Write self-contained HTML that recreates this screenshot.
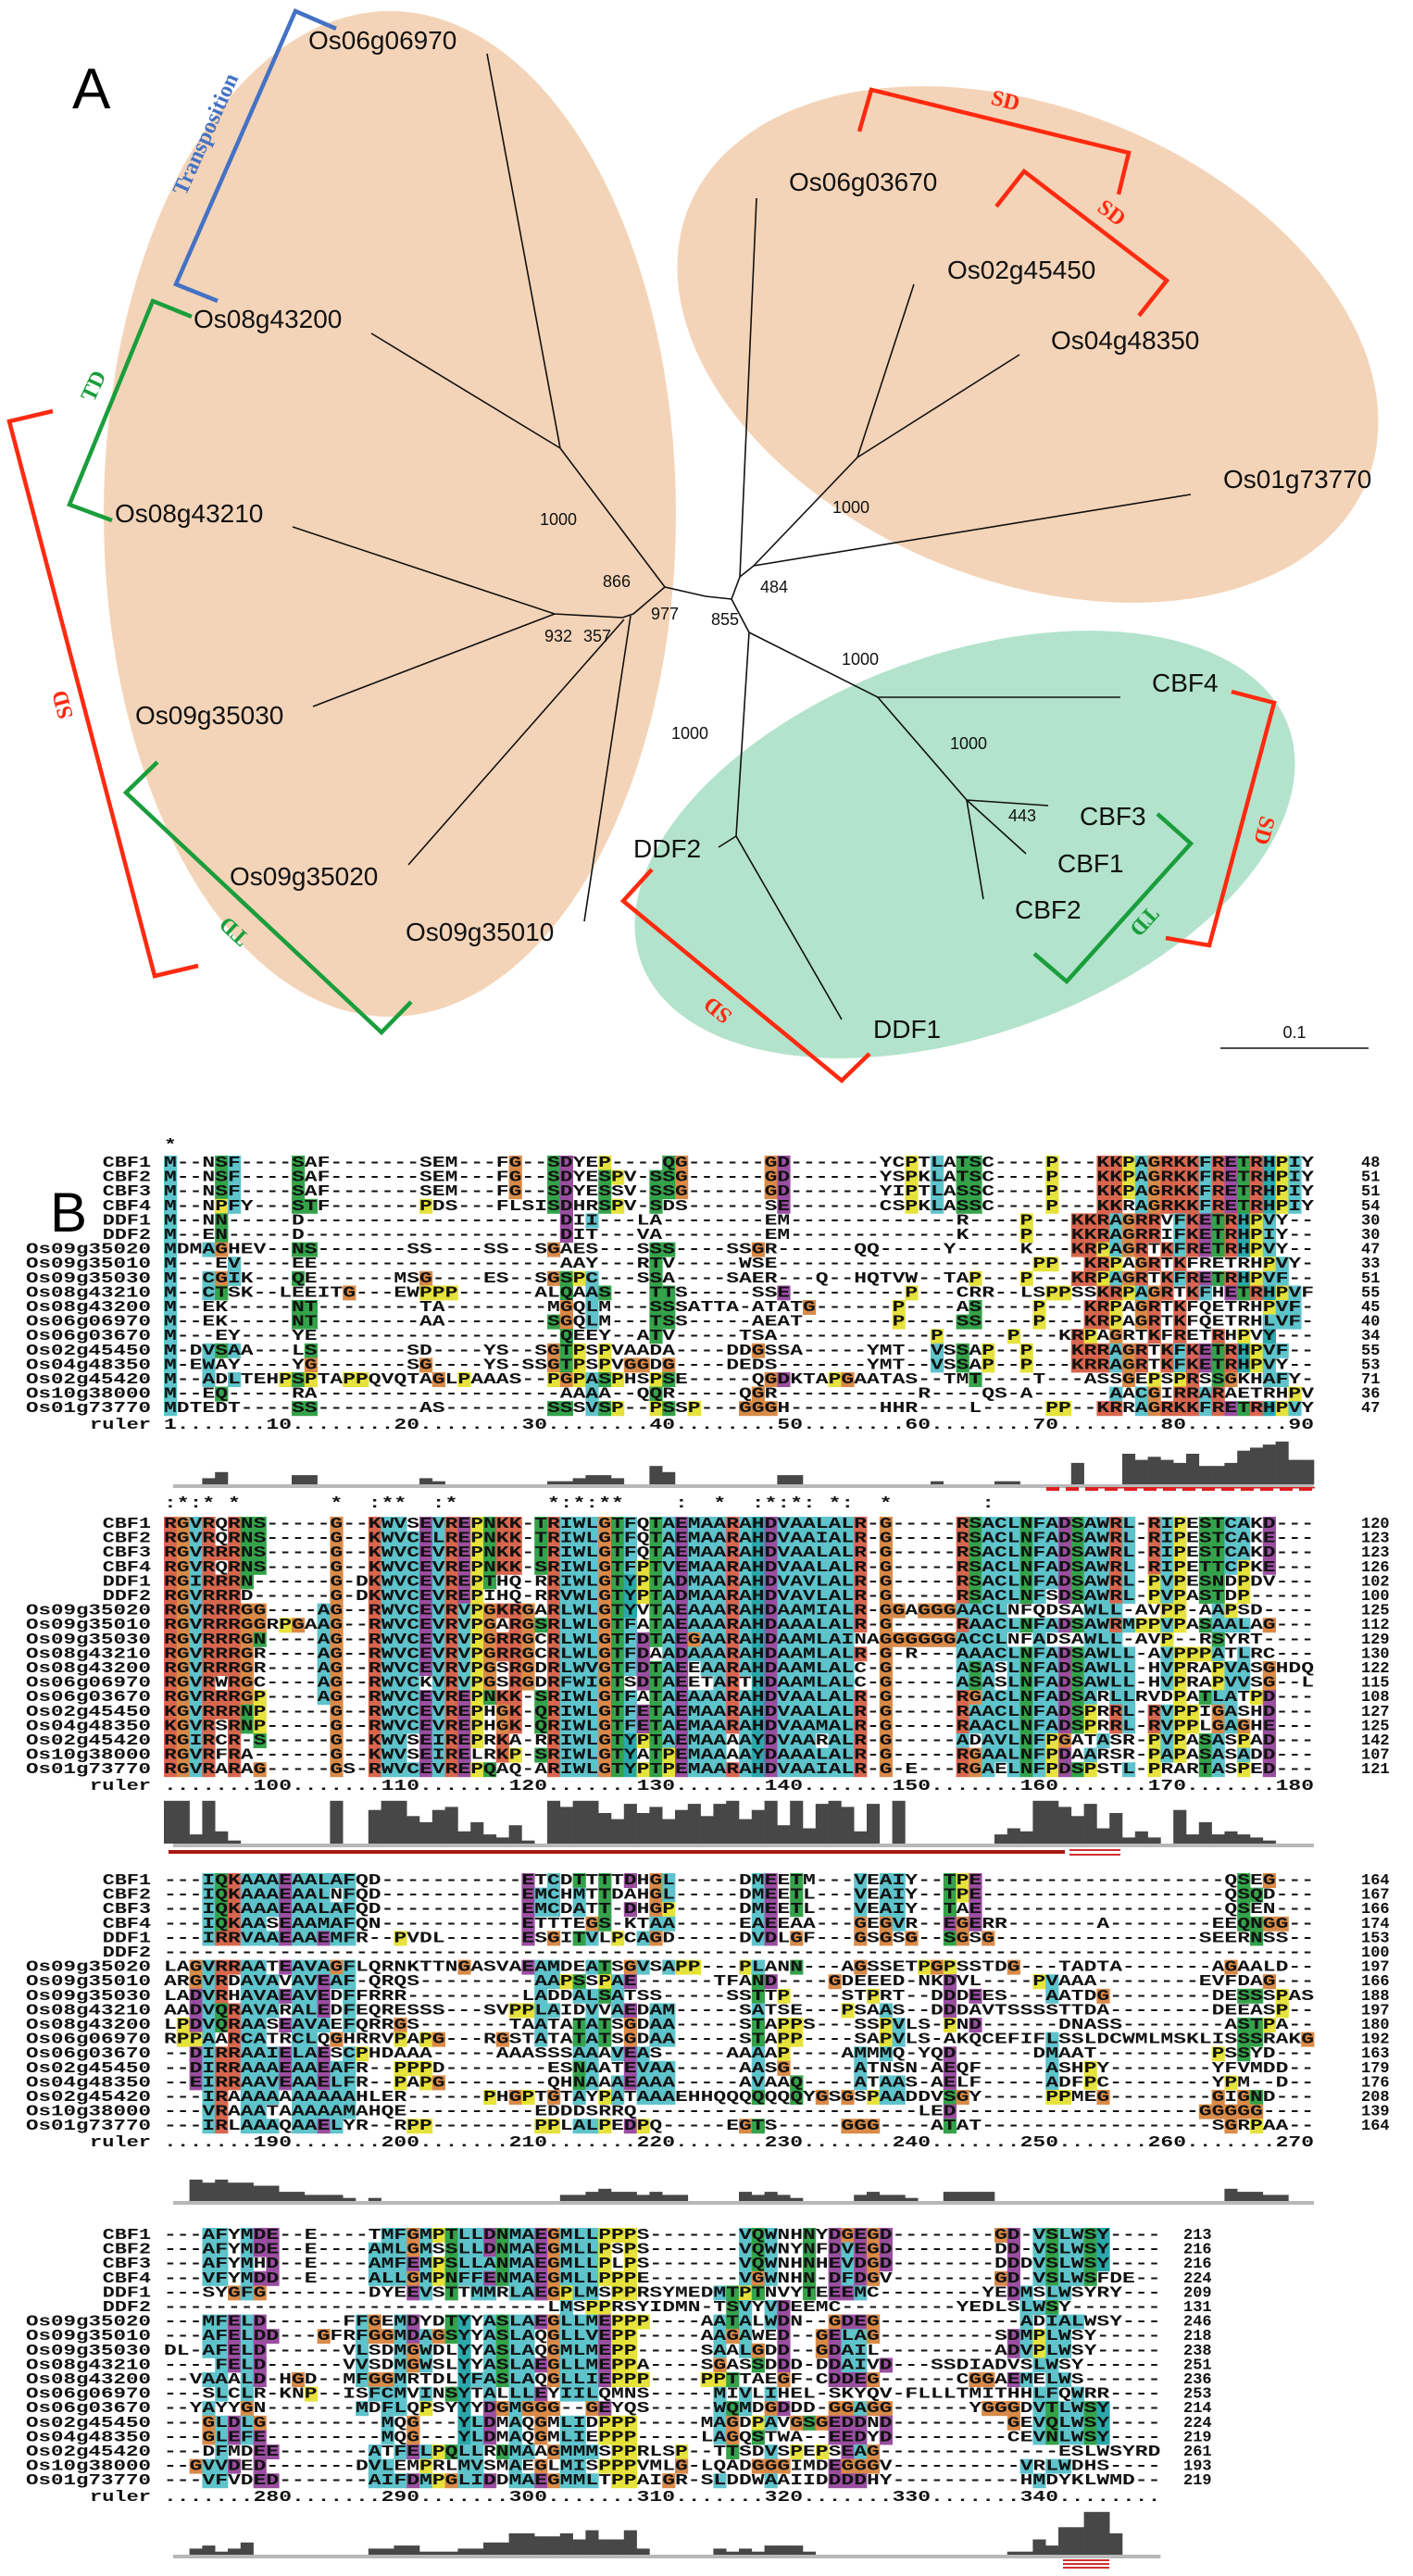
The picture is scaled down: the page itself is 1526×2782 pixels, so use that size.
<!DOCTYPE html>
<html><head><meta charset="utf-8"><style>
html,body{margin:0;padding:0;background:#fff;}
svg{display:block;}
.tl{stroke:#111;stroke-width:1.6;fill:none;}
.lab{font-family:"Liberation Sans",sans-serif;font-size:28px;fill:#111;}
.bs{font-family:"Liberation Sans",sans-serif;font-size:18px;fill:#111;}
.br{fill:none;stroke-width:4.5;}
.bl{font-family:"Liberation Serif",serif;font-weight:bold;font-size:24px;}
.seq{font-family:"Liberation Mono",monospace;font-weight:bold;font-size:17px;fill:#111;}
</style></head><body>
<svg id="fig" width="1526" height="2782" viewBox="0 0 1526 2782" xmlns="http://www.w3.org/2000/svg">
<g>
<ellipse cx="421" cy="555" rx="309" ry="543" fill="#f4d4b8"/>
<ellipse cx="1110" cy="372" rx="395" ry="255" transform="rotate(22 1110 372)" fill="#f4d4b8"/>
<ellipse cx="1042" cy="912" rx="372" ry="205" transform="rotate(-20 1042 912)" fill="#b3e3cc"/>
<text x="78" y="117" font-family="Liberation Sans,sans-serif" font-size="62" fill="#000">A</text>
<g>
<polyline class="tl" points="526,58 605,484 718,634 762,644 790,647"/>
<polyline class="tl" points="401,360 605,484"/>
<polyline class="tl" points="316,569 599,663 672,667 684,663 718,634"/>
<polyline class="tl" points="338,763 599,663"/>
<polyline class="tl" points="441,934 674,669"/>
<polyline class="tl" points="631,995 681,665"/>
<polyline class="tl" points="790,647 799,623 817,214"/>
<polyline class="tl" points="799,623 814,611 1286,534"/>
<polyline class="tl" points="814,611 926,494 987,307"/>
<polyline class="tl" points="926,494 1101,383"/>
<polyline class="tl" points="790,647 809,683 948,753 1210,753"/>
<polyline class="tl" points="948,753 1044,864 1132,870"/>
<polyline class="tl" points="1044,864 1108,922"/>
<polyline class="tl" points="1044,864 1062,971"/>
<polyline class="tl" points="809,683 795,903 909,1101"/>
<polyline class="tl" points="795,903 776,915"/>
</g>
<g>
<text class="lab" x="333" y="53">Os06g06970</text>
<text class="lab" x="209" y="354">Os08g43200</text>
<text class="lab" x="124" y="564">Os08g43210</text>
<text class="lab" x="146" y="782">Os09g35030</text>
<text class="lab" x="248" y="956">Os09g35020</text>
<text class="lab" x="438" y="1016">Os09g35010</text>
<text class="lab" x="684" y="926">DDF2</text>
<text class="lab" x="852" y="206">Os06g03670</text>
<text class="lab" x="1023" y="301">Os02g45450</text>
<text class="lab" x="1135" y="377">Os04g48350</text>
<text class="lab" x="1321" y="527">Os01g73770</text>
<text class="lab" x="1244" y="747">CBF4</text>
<text class="lab" x="1166" y="891">CBF3</text>
<text class="lab" x="1142" y="942">CBF1</text>
<text class="lab" x="1096" y="992">CBF2</text>
<text class="lab" x="943" y="1121">DDF1</text>
</g>
<g>
<text class="bs" x="583" y="567">1000</text>
<text class="bs" x="651" y="634">866</text>
<text class="bs" x="703" y="669">977</text>
<text class="bs" x="588" y="693">932</text>
<text class="bs" x="630" y="693">357</text>
<text class="bs" x="725" y="798">1000</text>
<text class="bs" x="899" y="554">1000</text>
<text class="bs" x="821" y="640">484</text>
<text class="bs" x="768" y="675">855</text>
<text class="bs" x="909" y="718">1000</text>
<text class="bs" x="1026" y="809">1000</text>
<text class="bs" x="1089" y="887">443</text>
</g>
<g>
<line x1="1318" y1="1132" x2="1478" y2="1132" stroke="#111" stroke-width="1.6"/>
<text class="bs" x="1398" y="1121" text-anchor="middle">0.1</text>
</g>
<g>
<polyline class="br" stroke="#4472c4" points="363,31 319,12 190,307 235,325"/>
<text class="bl" fill="#4472c4" transform="translate(229,148) rotate(-66)" text-anchor="middle">Transposition</text>
<polyline class="br" stroke="#1a9e3c" points="207,342 165,325 75,545 121,562"/>
<text class="bl" fill="#1a9e3c" transform="translate(108,420) rotate(-65)" text-anchor="middle">TD</text>
<polyline class="br" stroke="#ff2a10" points="57,444 10,455 167,1054 214,1043"/>
<text class="bl" fill="#ff2a10" transform="translate(75,759) rotate(-105)" text-anchor="middle">SD</text>
<polyline class="br" stroke="#1a9e3c" points="170,823 136,856 412,1115 444,1082"/>
<text class="bl" fill="#1a9e3c" transform="translate(258,1000) rotate(223)" text-anchor="middle">TD</text>
<polyline class="br" stroke="#ff2a10" points="704,939 673,973 909,1167 939,1138"/>
<text class="bl" fill="#ff2a10" transform="translate(780,1085) rotate(219)" text-anchor="middle">SD</text>
<polyline class="br" stroke="#ff2a10" points="928,142 941,97 1219,165 1208,210"/>
<text class="bl" fill="#ff2a10" transform="translate(1084,116) rotate(14)" text-anchor="middle">SD</text>
<polyline class="br" stroke="#ff2a10" points="1076,223 1106,185 1260,303 1230,341"/>
<text class="bl" fill="#ff2a10" transform="translate(1196,236) rotate(37)" text-anchor="middle">SD</text>
<polyline class="br" stroke="#1a9e3c" points="1250,879 1286,911 1152,1060 1117,1030"/>
<text class="bl" fill="#1a9e3c" transform="translate(1230,990) rotate(132)" text-anchor="middle">TD</text>
<polyline class="br" stroke="#ff2a10" points="1330,747 1376,759 1306,1021 1259,1013"/>
<text class="bl" fill="#ff2a10" transform="translate(1358,895) rotate(105)" text-anchor="middle">SD</text>
</g>
</g>
<text x="54" y="1330" font-family="Liberation Sans,sans-serif" font-size="60" fill="#000">B</text>
<g id="aln"></g>
</svg>
<script>
const names=["CBF1","CBF2","CBF3","CBF4","DDF1","DDF2","Os09g35020","Os09g35010","Os09g35030","Os08g43210","Os08g43200","Os06g06970","Os06g03670","Os02g45450","Os04g48350","Os02g45420","Os10g38000","Os01g73770"];
const block1=[
"M--NSF----SAF-------SEM---FG--SDYEP----QG------GD-------YCPTLATSC----P---KKPAGRKKFRETRHPIY",
"M--NSF----SAF-------SEM---FG--SDYESPV-SSG------GD-------YSPKLATSC----P---KKPAGRKKFRETRHPIY",
"M--NSF----SAF-------SEM---FG--SDYESSV-SSG------GD-------YIPTLASSC----P---KKPAGRKKFRETRHPIY",
"M--NPFY---STF-------PDS---FLSISDHRSPV-SDS------SE-------CSPKLASSC----P---KKRAGRKKFRETRHPIY",
"M--NN-----D--------------------DII---LA--------EM-------------R----P---KKRAGRRVFKETRHPVY",
"M--EN-----D--------------------DIT---VA--------EM-------------K----P---KKRAGRRIFKETRHPIY",
"MDMAGHEV--NS-------SS----SS--SGAES---SSS----SSGR------QQ-----Y-----K---KRPAGRTKFRETRHPVY",
"M---EV----EE-------------------AAY---RTV-----WSE--------------------PP--KRPAGRTKFRETRHPVY",
"M--CGIK---QE------MSG----ES--SGSPC---SSA----SAER---Q--HQTVW--TAP---P---KRPAGRTKFRETRHPVF",
"M--CTSK--LEEITG---EWPPP------ALQAAS---TTS-----SSE---------P---CRR--LSPPSSKRPAGRTKFHETRHPVF",
"M--EK-----NT--------TA--------MGQLM---SSSATTA-ATATG------P----AS----P---KRPAGRTKFQETRHPVF",
"M--EK-----NT--------AA--------SGQLM---TSS-----AEAT-------P----SS----P---KRPAGRTKFQETRHLVF",
"M---EY----YE-------------------QEEY--ATV-----TSA------------P-----P---KRPAGRTKFRETRHPVY",
"M-DVSAA---LS-------SD----YS--SGTPSPVAADA----DDGSSA-----YMT--VSSAP--P---KRRAGRTKFKETRHPVF",
"M-EWAY----YG-------SG----YS-SSGTPSPVGGDG----DEDS-------YMT--VSSAP--P---KRRAGRTKFKETRHPVY",
"M--ADLTEHPSPTAPPQVQTAGLPAAAS--PGPASPHSPSE-----QGDKTAPGAATAS--TMT----T---ASSGEPSPRSSGKHAFY",
"M--EQ-----RA-------------------AAAA--QQR-----QGR-----------R----QS-A------AACGIRRARAETRHPVY",
"MDTEDT----SS--------AS--------SSSVSP--PSSP---GGGH-------HHR----L-----PP--KRRAGRKKFRETRHPVY"];
const block2=[
"RGVRQRNS-----G--KWVSEVREPNKK-TRIWLGTFQTAEMAARAHDVAALALR-G-----RSACLNFADSAWRL-RIPESTCAKD---",
"RGVRQRNS-----G--KWVCELREPNKK-TRIWLGTFQTAEMAARAHDVAAIALR-G-----RSACLNFADSAWRL-RIPESTCAKE---",
"RGVRRRNS-----G--KWVCEVREPNKK-TRIWLGTFQTAEMAARAHDVAALALR-G-----RSACLNFADSAWRL-RIPESTCAKD---",
"RGVRQRNS-----G--KWVCEVREPNKK-SRIWLGTFPTVEMAARAHDVAALALR-G-----RSACLNFADSAWRL-RIPETTCPKE---",
"RGIRRRN------G-DKWVCEVREPTHQ-RRIWLGTYPTADMAARAHDVAVLALR-G-----RSACLNFADSAWRL-PVPESNDPDV",
"RGVRRRD------G-DKWVCEVREPIHQ-RRVWLGTYPTADMAARAHDVAVLALR-G-----RSACLNFSDSAWRL-PVPASTDP---",
"RGVRRRGG----AG--RWVCEVRVPGKRGARLWLGTYVTAEAAARAHDAAMIALR-GGAGGGAACLNFQDSAWLL-AVPP-AAPSD---",
"RGVRRRGGRPGAAG--RWVCEVRVPGARGSRLWLGTFATAEAAARAHDAAALALR-G-----RAACLNFADSAWRMPPVPASAALAG---",
"RGVRRRGN----AG--RWVCEVRVPGRRGCRLWLGTFDTAEGAARAHDAAMLAINAGGGGGGACCLNFADSAWLL-AVP--RSYRT---",
"RGVRRRGR----AG--RWVCEVRVPGRRGCRLWLGTFDAADAAARAHDAAMLALR-G-R---AAACLNFADSAWLL-AVPPPATLRC---",
"RGVRRRGR----AG--RWVCEVRVPGSRGDRLWVGTFDTAEEAARAHDAAMLALC-G-----ASASLNFADSAWLL-HVPRAPVASGHDQ",
"RGVRWRGC----AG--RWVCKVRVPGSRGDRFWIGTSDTAEETARTHDAAMLALC-G-----ASASLNFADSAWLL-HVPRAPVVSG--L",
"RGVRRRGP----AG--RWVCEVREPNKK-SRIWLGTFATAEAAARAHDVAALALR-G-----RGACLNFADSARLLRVDPATLATPD---",
"KGVRRRNP-----G--RWVCEVREPHGK-QRIWLGTFETAEMAARAHDVAALALR-G-----RAACLNFADSPRRL-RVPPIGASHD---",
"KGVRSRNP-----G--RWVCEVREPHGK-QRIWLGTFETAEMAARAHDVAAMALR-G-----RAACLNFADSPRRL-RVPPLGAGHE---",
"RGIRCR-S-----G--KWVSEIREPRKA-RRIWLGTYPTAEMAAAAYDVAARALR-G-----ADAVLNFPGATASR-PVPASASPAD---",
"RGVRFRA------G--KWVSEIRELRKP-SRIWLGTYATPEMAAAAYDAAALALR-G-----RGAALNFPDAARSR-PAPASASADD---",
"RGVRARAG-----GS-RWVCEVREPQAQ-ARIWLGTYPTPEMAARAHDVAAIALR-G-E---RGAELNFPDSPSTL-PRARTASPED---"];
const block3=[
"---IQKAAAEAALAFQD-----------ETCDTTTTDHGL-----DMEETM---VEAIY--TPE-------------------QSEG---",
"---IQKAAAEAALNFQD-----------EMCHMTTDAHGL-----DMEETL---VEAIY--TPE-------------------QSQD---",
"---IQKAAAEAALAFQD-----------EMCDATT-DHGP-----DMEETL---VEAIY--TAE-------------------QSEN---",
"---IQKAASEAAMAFQN-----------ETTTEGS-KTAA-----EAEEAA---GEGVR--EGERR-------A--------EEQNGG--",
"---IRRVAAEAAEMFR--PVDL------ESGITVLPCAGD-----DVDLGF---GSGSG--SGSG----------------SEERNSS--",
"------------------------------------------------------------------------------------------",
"LAGVRRAATEAVAGFLQRNKTTNGASVAEAMDEATSGVSAPP---PLANN---AGSSETPGPSSTDG---TADTA-------AGAALD--",
"ARGVRDAVAVAVEAF-QRQS---------AAPSSPAE------TFAND----GDEEED-NKDVL----PVAAA--------EVFDAG--",
"LADVRHAVAEAVEDFFRRR---------LADDALSATSS-----SSTTP----STPRT--DDDEES---AATDG--------DESSSPAS",
"AADVQRAVARALEDFEQRESSS---SVPPLAIDVVAEDAM-----SATSE---PSAAS--DDDAVTSSSSTTDA--------DEEASP--",
"LPDVQRAASEAVAEFQRRGS-------TAATATATSGDAA-----STAPPS---SSPVLS-PND------DNASS--------ASTPA--",
"RPPAARCATRCLQGHRRVPAPG---RGSTATATATSGDAA-----STAPP----SAPVLS-AKQCEFIFLSSLDCWMLMSKLISSSRAKG",
"--DIRRAAIELAESCPHDAAA-----AAASSSAAAVEAS-----AAAAP----AMMMQ-YQD------DMAAT---------PSSYD--",
"--DIRRAAAEAAEAFR--PPPD--------ESNAATEVAA-----AASG-----ATNSN-AEQF-----ASHPY--------YFVMDD--",
"--EIRRAAVEAAELFR--PAPG--------QHNAAAEAAA-----AVAAQ----ATAAS-AELF-----ADFPC--------YPM--D--",
"---IRAAAAAAAAAAHLER------PHGPTGTAYPATAAAEHHQQQQQQQYGSGSPAADDVSGY-----PPMEG--------GIGND--",
"---VRAAATAAAAAMAHQE----------EDDDSRRQ----------------------LED-------------------GGGGG--",
"---IRLAAAQAAELYR--RPP--------PPLALPEDPQ-----EGTS-----GGG----ATAT------------------SGRPAA--"];
const block4=[
"---AFYMDE--E----TMFGMPTLLDNMAEGMLLPPPS-------VQWNHNYDGEGD--------GD-VSLWSY---",
"---AFYMDE--E----AMLGMSSLLDNMAEGMLLPSPS-------VQWNYNFDVEGD--------DD-VSLWSY---",
"---AFYMHD--E----AMFEMPSLLANMAEGMLLPLPS-------VQWNHNHEVDGD--------DDDVSLWSY---",
"---VFYMDD--E----ALLGMPNFFENMAEGMLLPPPE-------VGWNHN-DFDGV--------GD-VSLWSFDE-",
"---SYGFG--------DYEEVSTTMMRLAEGPLMSPPRSYMEDMTPTNVYTEEEMC--------YEDMSLWSYRY-",
"------------------------------LMSPPRSYIDMN-TSVYVDEEMC---------YEDLSLWSY---",
"---MFELD------FFGEMDYDTYYASLAEGLLMEPPP----AATALWDN--GDEG-----------ADIALWSY---",
"---AFELDD---GFRFGGMDAGSYYASLAQGLLVEPP-----AAGAWED--GELAG---------SDMPLWSY---",
"DL-AFELD------VLSDMGWDLYYASLAQGMLMEPP-----SAALGDD--GDAIL---------ADVPLWSY---",
"----FELD------VVSDMGWSLYYASLAEGLLMEPPA----SGASSDDD-DDAIVD---SSDIADVSLWSY---",
"--VAAALD-HGD--MFGGMRTDLYFASLAQGLLIEPPP----PPTTAEGF-CDDEG------CGGAEMELWS----",
"---SLCLR-KNP--ISFCMVINSYTALLLEYIILQMNS-----MIVLIHEL-SKYQV-FLLLTMITHHLFQWRR---",
"--YAYYGN-------MDFLQPSYYYDGMGGG--GEYQS-----WQMDGDDD-GGAGG------YGGGDVTLWSY---",
"---GLDLG---------MQG---YLDMAQGMLIDPPP-----MAGDPAVGSGEDDND---------GEVQLWSY---",
"---GLEFE---------MQG---YLDMAQGMLIEPPP-----LAGQSTWA--EEDYD---------CEVNLWSY---",
"---DFMDEE-------ATFELPQLLRNMAAGMMMSPPRLSP--TTSDVSPEPSEAG--------------ESLWSYRDP",
"--GVVDED-------DVLEMPRLMVSMAEGLMISPPPVMLG-LQADGGGIMDEGGGV----------VRLWDHS--",
"---VFVDED-------AIFDMPGLIDDMAEGMMLTPPAIGR-SLDDWAAIIDDDDHY----------HMDYKLWMD---"];
const ends1=[48,51,51,54,30,30,47,33,51,55,45,40,34,55,53,71,36,47];
const ends2=[120,123,123,126,102,100,125,112,129,130,122,115,108,127,125,142,107,121];
const ends3=[164,167,166,174,153,100,197,166,188,197,180,192,163,179,176,208,139,164];
const ends4=[213,216,216,224,209,131,246,218,238,251,236,253,214,224,219,261,193,219];
const hist1=[0,0,0,2,4,0,0,0,0,0,3,3,0,0,0,0,0,0,0,0,2,1,0,0,0,0,0,0,0,0,1,1,2,3,3,2,0,0,6,4,0,0,0,0,0,0,0,0,3,3,0,0,0,0,0,0,0,0,0,0,1,0,0,0,0,1,1,0,0,0,0,7,0,0,0,10,8,9,8,7,10,6,6,7,11,12,13,14,8,8];
const hist2=[14,14,3,14,4,1,0,0,0,0,0,0,0,14,0,0,11,14,14,9,7,11,12,4,7,3,2,6,1,0,14,12,14,14,10,8,13,10,12,8,11,13,9,13,14,8,11,14,6,14,5,13,14,12,4,13,0,14,0,0,0,0,0,0,0,3,5,4,14,14,12,9,13,5,10,2,4,2,0,11,3,7,3,4,3,2,1,0,0,0];
const hist3=[0,0,7,6,7,6,6,5,5,3,3,2,2,2,1,0,1,0,0,0,0,0,0,0,0,0,0,0,0,0,0,2,2,3,4,3,3,2,3,2,2,0,0,0,0,3,2,3,2,1,0,0,0,0,2,3,2,2,1,0,0,3,3,3,3,0,0,0,0,0,0,0,0,0,0,0,0,0,0,0,0,0,0,4,3,3,2,2,0,0];
const hist4=[0,0,2,3,1,2,4,0,0,0,0,0,0,0,0,0,2,2,3,3,1,1,1,2,2,4,4,7,7,6,6,7,5,8,5,5,8,2,0,0,0,0,0,2,1,2,1,3,3,3,1,0,0,0,0,0,0,0,0,0,0,0,0,0,0,0,1,1,5,3,9,9,14,14,7,0,0,0];

const NS="http://www.w3.org/2000/svg";
const aln=document.getElementById('aln');
const X0=177, CW=13.8, RH=15.6;
function cls(c){
  if("ACILMFWV".includes(c))return "h";
  if("KR".includes(c))return "p";
  if("STNQ".includes(c))return "s";
  if("DE".includes(c))return "n";
  if("HY".includes(c))return "a";
  if(c==="G")return "g";
  if(c==="P")return "y";
  return "x";
}
const COL={h:"#5ec3cb",p:"#d8664e",s:"#34a24a",n:"#9a4ea0",a:"#2aa8ab",g:"#d98a48",y:"#e6e23c"};
function mk(tag,attrs,parent){const e=document.createElementNS(NS,tag);for(const k in attrs)e.setAttribute(k,attrs[k]);parent.appendChild(e);return e;}
function drawBlock(idx,seqs,ends,hist,startCol,n,topY,numX,histBase,starY){
  const g=mk('g',{},aln);
  
  
  const rows=seqs.map(s=>{s=s.slice(0,n);while(s.length<n)s+='-';return s;});
  const bg=mk('g',{},g);
  
  
  let stars='';
  for(let c=0;c<n;c++){
    const cnt={};let gaps=0;const res={};
    rows.forEach(r=>{const ch=r[c];if(ch==='-'){gaps++;return;}const k=cls(ch);cnt[k]=(cnt[k]||0)+1;res[ch]=(res[ch]||0)+1;});
    const keys=Object.keys(res);
    if(gaps===0&&keys.length===1)stars+='*';
    else if(gaps===0&&Object.keys(cnt).length===1)stars+=':';
    else stars+=' ';
    rows.forEach((r,i)=>{
      const ch=r[c];if(ch==='-')return;const k=cls(ch);if(k==='x')return;
      if(k==='g'||k==='y'||(cnt[k]||0)>=6){
        mk('rect',{x:(X0+c*CW).toFixed(1),y:(topY+i*RH-12).toFixed(1),width:CW+0.4,height:RH+0.4,fill:COL[k]},bg);
      }
    });
  }
  if(starY){
    const st=mk('text',{x:X0,y:starY,class:'seq',textLength:(n*CW).toFixed(1),lengthAdjust:'spacingAndGlyphs','xml:space':'preserve'},g);
    
    
    st.textContent=stars.replace(/ /g,'\u00a0');
  }
  rows.forEach((r,i)=>{
    const y=topY+i*RH;
    const lb=mk('text',{x:X0-14,y:y,class:'seq','text-anchor':'end',textLength:(names[i].length*CW-3).toFixed(1),lengthAdjust:'spacingAndGlyphs'},g);
    
    
    lb.textContent=names[i];
    const t=mk('text',{x:X0,y:y,class:'seq',textLength:(n*CW).toFixed(1),lengthAdjust:'spacingAndGlyphs'},g);
    
    
    t.textContent=r;
    const nm=mk('text',{x:numX,y:y,class:'seq'},g);
    
    
    nm.textContent=ends[i];
  });
  const ru=Array(n).fill('.');
  for(let c=0;c<n;c++){const col=startCol+c;
    if(col===1)ru[c]='1';
    else if(col%10===0){const s=String(col);for(let j=0;j<s.length;j++){const p=c-s.length+1+j;if(p>=0)ru[p]=s[j];}}}
  const ry=topY+18*RH+2;
  const rl=mk('text',{x:X0-14,y:ry,class:'seq','text-anchor':'end',textLength:(5*CW-3).toFixed(1),lengthAdjust:'spacingAndGlyphs'},g);
  
  
  rl.textContent='ruler';
  const rt=mk('text',{x:X0,y:ry,class:'seq',textLength:(n*CW).toFixed(1),lengthAdjust:'spacingAndGlyphs'},g);
  
  
  rt.textContent=ru.join('');
  const hg=mk('g',{},g);
  
  
  const base=mk('rect',{x:X0+10,y:histBase,width:n*CW-10,height:4,fill:'#b8b8b8'},hg);
  
  
  hist.forEach((v,c)=>{
    if(!v)return;
    const h=v*3.3;
    const b=mk('rect',{x:(X0+c*CW).toFixed(1),y:(histBase-h).toFixed(1),width:CW+0.3,height:h.toFixed(1),fill:'#474747'},hg);
    
    
  });
  return g;
}
drawBlock(1,block1,ends1,hist1,1,90,1260,1470,1603,1241);
drawBlock(2,block2,ends2,hist2,91,90,1650,1470,1991,1628);
drawBlock(3,block3,ends3,hist3,181,90,2035,1470,2377,null);
drawBlock(4,block4,ends4,hist4,271,78,2418,1278,2759,2398);
function red(attrs,name){const l=mk('rect',attrs,aln);

}
for(let x=1130;x<1420;x+=21){red({x:x,y:1606,width:14,height:4,fill:'#e02020'},'domain-dash');}
red({x:1180,y:1606,width:240,height:1.5,fill:'#e02020'},'domain-line-1');
red({x:182,y:1998,width:968,height:4,fill:'#a81a10'},'ap2-domain-line');
red({x:1155,y:1997,width:55,height:2,fill:'#d03030'},'signature-line-a');
red({x:1155,y:2002,width:55,height:2,fill:'#d03030'},'signature-line-b');
red({x:1148,y:2764,width:50,height:2,fill:'#d03030'},'motif-line-a');
red({x:1148,y:2768,width:50,height:2,fill:'#d03030'},'motif-line-b');
red({x:1148,y:2772,width:50,height:2,fill:'#d03030'},'motif-line-c');
</script>
</body></html>
